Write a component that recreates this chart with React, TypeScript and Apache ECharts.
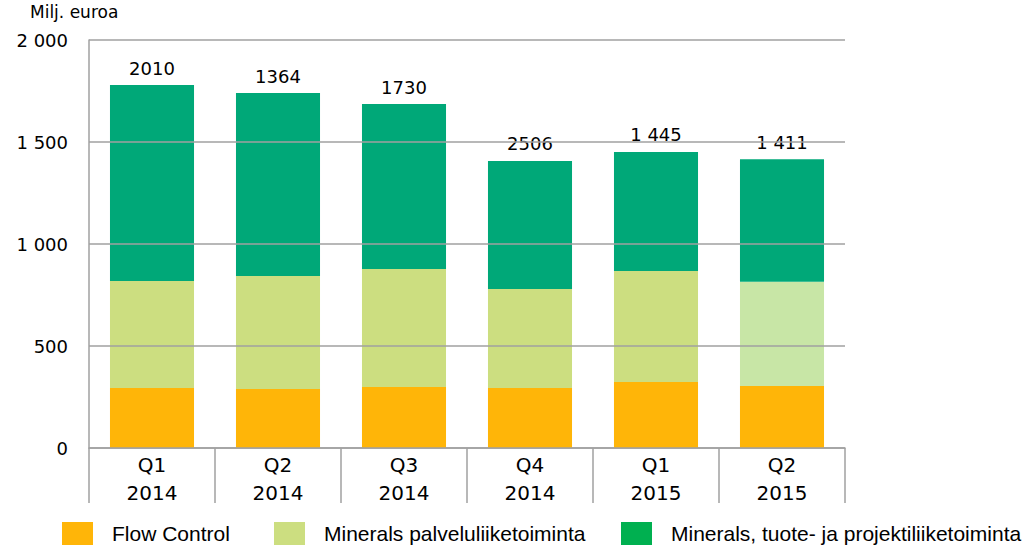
import React, { useEffect, useRef } from "react";
import * as echarts from "echarts";

const quarters = ["Q1", "Q2", "Q3", "Q4", "Q1", "Q2"];
const years = ["2014", "2014", "2014", "2014", "2015", "2015"];
const flowControl = [294, 289, 299, 294, 324, 304];
const mineralsPalvelu = [525, 554, 578, 485, 544, 511];
const mineralsTuote = [960, 897, 809, 628, 583, 600];
const topLabels = ["2010", "1364", "1730", "2506", "1 445", "1 411"];
const seriesNames = [
  "Flow Control",
  "Minerals palveluliiketoiminta",
  "Minerals, tuote- ja projektiliiketoiminta",
];

const AXIS_FONT = "'DejaVu Sans', sans-serif";
const LEGEND_FONT = "'Liberation Sans', Arial, sans-serif";

export default function App() {
  const ref = useRef<HTMLDivElement>(null);
  useEffect(() => {
    if (!ref.current) return;
    const chart = echarts.init(ref.current, undefined, { renderer: "svg" });
    const categories = quarters.map((q, i) => q + "\n" + years[i]);
    const fmt = (v: number) => {
      const s = String(v);
      return s.length > 3 ? s.slice(0, s.length - 3) + " " + s.slice(-3) : s;
    };
    const legendCommon = {
      top: 522,
      padding: 0,
      itemWidth: 31,
      itemHeight: 23,
      icon: "rect",
      selectedMode: false,
      textStyle: {
        fontFamily: LEGEND_FONT,
        fontSize: 21,
        color: "#000",
        padding: [4, 0, 0, 14],
      },
    };
    chart.setOption({
      animation: false,
      title: {
        text: "Milj. euroa",
        left: 30,
        top: 3,
        padding: 0,
        textStyle: { fontFamily: AXIS_FONT, fontSize: 17, fontWeight: "normal", color: "#000" },
      },
      legend: [
        { ...legendCommon, left: 62, data: [{ name: seriesNames[0] }] },
        { ...legendCommon, left: 274, data: [{ name: seriesNames[1] }] },
        { ...legendCommon, left: 621, data: [{ name: seriesNames[2], itemStyle: { color: "#00B050" } }] },
      ],
      grid: { left: 89, right: 187, top: 40, bottom: 101 },
      xAxis: {
        type: "category",
        data: categories,
        axisLine: { show: true, lineStyle: { color: "#A0A0A0", width: 1.5 } },
        axisTick: { show: true, length: 55, interval: 0, lineStyle: { color: "#A0A0A0", width: 1.5 } },
        axisLabel: {
          interval: 0,
          margin: 3,
          lineHeight: 28,
          fontFamily: AXIS_FONT,
          fontSize: 20,
          color: "#000",
        },
      },
      yAxis: {
        type: "value",
        min: 0,
        max: 2000,
        interval: 500,
        z: 5,
        axisLine: { show: true, lineStyle: { color: "#A0A0A0", width: 1.5 } },
        axisTick: { show: false },
        splitLine: { show: true, lineStyle: { color: "#A0A0A0", width: 1.5 } },
        axisLabel: {
          margin: 21,
          fontFamily: AXIS_FONT,
          fontSize: 18,
          color: "#000",
          formatter: (v: number) => fmt(v),
        },
      },
      series: [
        {
          name: seriesNames[0],
          type: "bar",
          stack: "total",
          barWidth: "66.7%",
          itemStyle: { color: "#FFB508" },
          data: flowControl,
        },
        {
          name: seriesNames[1],
          type: "bar",
          stack: "total",
          itemStyle: { color: "#CCDE80" },
          data: mineralsPalvelu.map((v, i) =>
            i === mineralsPalvelu.length - 1 ? { value: v, itemStyle: { color: "#C8E6A6" } } : v
          ),
        },
        {
          name: seriesNames[2],
          type: "bar",
          stack: "total",
          itemStyle: { color: "#00A878" },
          data: mineralsTuote,
          label: {
            show: true,
            position: "top",
            distance: 8,
            fontFamily: AXIS_FONT,
            fontSize: 18,
            color: "#000",
            formatter: (p: any) => topLabels[p.dataIndex],
          },
        },
      ],
    });
    return () => chart.dispose();
  }, []);
  return (
    <div
      ref={ref}
      style={{ position: "fixed", left: 0, top: 0, width: 1032, height: 549, background: "#fff" }}
    />
  );
}
